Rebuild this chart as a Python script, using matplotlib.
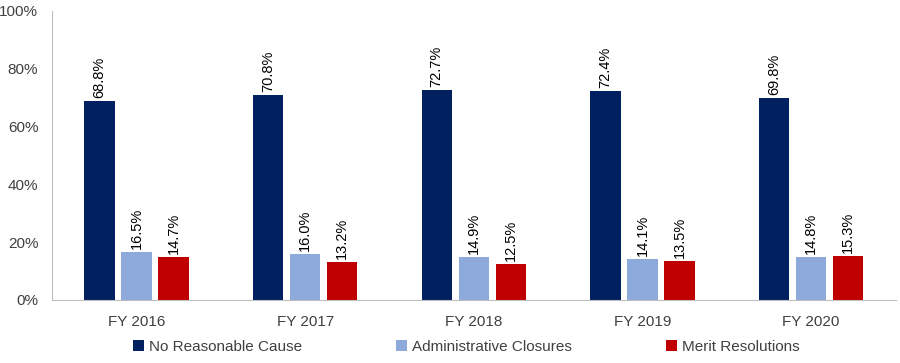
import matplotlib
matplotlib.use('Agg')
import matplotlib.pyplot as plt
import numpy as np

plt.rcParams['font.family'] = ['Liberation Sans', 'DejaVu Sans']

years = ["FY 2016", "FY 2017", "FY 2018", "FY 2019", "FY 2020"]
series_names = ["No Reasonable Cause", "Administrative Closures", "Merit Resolutions"]
no_cause = [68.8, 70.8, 72.7, 72.4, 69.8]
admin = [16.5, 16.0, 14.9, 14.1, 14.8]
merit = [14.7, 13.2, 12.5, 13.5, 15.3]
colors = ["#002060", "#8EA9DB", "#C00000"]

fig = plt.figure(figsize=(9, 3.63), dpi=100)
ax = fig.add_axes([0.058, 0.174, 0.937, 0.796])

x = np.arange(len(years))
w = 0.18
offsets = [-0.22, 0, 0.22]
for vals, off, c, name in zip([no_cause, admin, merit], offsets, colors, series_names):
    bars = ax.bar(x + off, vals, w, color=c, label=name)
    for b, v in zip(bars, vals):
        ax.text(b.get_x() + b.get_width() / 2, v + 1, "%.1f%%" % v,
                rotation=90, ha='center', va='bottom', fontsize=10.5, color='#000000')

ax.set_xlim(-0.5, len(years) - 0.5)
ax.set_ylim(0, 100)
ax.set_yticks(np.arange(0, 101, 20))
ax.set_yticklabels(["%d%%" % t for t in range(0, 101, 20)])
ax.set_xticks(x)
ax.set_xticklabels(years)
ax.tick_params(axis='both', length=0, labelsize=11, colors='#404040')
ax.tick_params(axis='x', pad=11)
ax.tick_params(axis='y', pad=10)
for s in ['top', 'right']:
    ax.spines[s].set_visible(False)
ax.spines['left'].set_color('#BFBFBF')
ax.spines['bottom'].set_color('#BFBFBF')

lgd = fig.legend(loc='lower center', bbox_to_anchor=(0.518, -0.012), ncol=3, frameon=False,
                 fontsize=11, handlelength=0.7, handleheight=0.7, handletextpad=0.3,
                 columnspacing=6.2, labelcolor='#404040')

plt.savefig('out.png', dpi=100)
